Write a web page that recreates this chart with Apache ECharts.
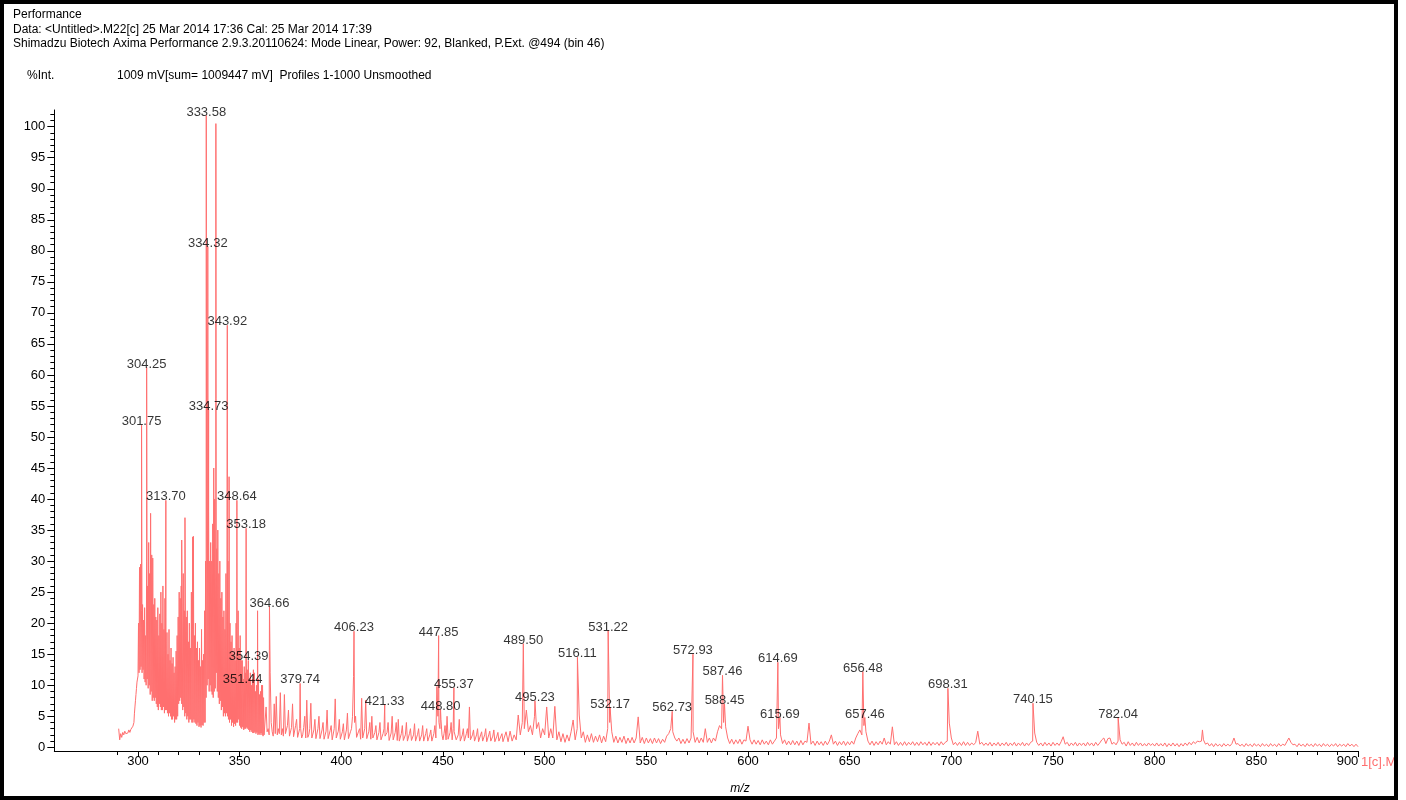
<!DOCTYPE html>
<html><head><meta charset="utf-8">
<script src="https://cdn.jsdelivr.net/npm/echarts@6/dist/echarts.min.js"></script>
<style>html,body{margin:0;padding:0;background:#fff}#c{width:1406px;height:800px}</style>
</head><body><div id="c"></div>
<script>
// ---------- DATA ----------
// Profile segment A: m/z 290.5 .. 297.5, step 0.5
const profAStart = 290.5, profAStep = 0.5;
const profA = [3.0,1.2,2.2,1.6,2.4,2.0,2.6,2.2,2.5,2.3,2.8,2.4,2.9,3.0,3.4];
// Profile segment B: m/z 298.0 .. 362.0, step 0.25 (dense cluster)
const profBStart = 298, profBStep = 0.25;
const profB = [
 4.0,5.5,6.5,7.5, 8.5,9.5,10.5,11.0, 11.5,20.0,12.0,29.0, 12.5,29.5,13.0,22.0, 12.0,23.0,12.5,20.5,
 11.0,22.5,10.5,18.0, 10.0,30.0,11.0,26.0, 9.5,33.0,10.0,28.0, 8.5,37.5,9.0,31.0, 7.5,30.5,8.0,23.0,
 7.5,24.0,8.0,21.0, 7.0,20.5,6.5,22.5, 6.0,18.0,7.0,21.5, 6.5,25.0,6.0,20.0, 6.0,26.0,6.5,19.0,
 5.5,24.0,6.0,17.0, 6.0,18.5,5.5,15.0, 5.0,19.0,5.5,14.0, 5.0,16.0,4.5,13.5, 4.5,14.5,5.0,12.0,
 4.0,13.0,4.5,15.5, 4.5,18.0,5.0,21.0, 7.0,25.0,7.5,24.0, 8.0,26.0,7.0,33.5, 6.0,28.0,6.5,22.0,
 5.0,37.0,5.5,21.0, 4.5,22.0,5.0,17.0, 4.0,20.0,4.5,16.0, 4.5,25.0,4.0,19.0, 4.0,34.0,4.5,18.0,
 4.0,20.0,3.8,16.0, 3.5,17.0,4.0,14.0, 3.3,16.0,3.5,13.0, 3.2,19.0,3.6,14.0, 3.5,15.0,4.0,22.0,
 4.0,30.0,8.0,35.0, 10.0,40.0,11.0,38.0, 9.0,30.0,10.0,33.0, 9.0,30.0,8.5,36.0, 8.0,45.0,9.0,40.0,
 9.5,35.0,12.0,32.0, 9.0,35.0,8.0,28.0, 7.0,30.0,7.5,24.0, 6.0,25.0,6.5,21.0, 5.0,22.0,5.5,19.0,
 5.0,28.0,5.5,24.0, 5.0,30.0,4.5,22.0, 4.0,20.0,4.5,17.0, 3.5,18.0,4.0,15.0, 3.3,16.0,3.8,14.0,
 3.5,20.0,4.0,19.0, 4.0,22.0,4.5,16.0, 3.5,18.0,3.2,14.0, 3.0,14.0,3.3,11.0, 2.8,13.0,3.0,12.0,
 3.0,16.0,3.2,12.5, 3.0,14.0,2.8,11.0, 2.5,12.0,2.8,10.0, 2.5,11.0,2.3,12.5, 2.3,12.0,2.5,9.0,
 2.2,10.0,2.4,11.5, 2.0,11.0,2.2,8.5, 2.0,9.0,2.3,10.0, 2.0,10.0,1.8,8.0,
 2.0
];
// Profile segment C: m/z 363 .. 480, step 0.5 (noisy baseline)
const profCStart = 363, profCStep = 0.5;
const profC = [
 6.5,2.5,3.0,2.0,12.0,4.0,2.5,1.8,7.0,2.2,
 8.2,2.0,3.0,2.2,8.8,2.0,3.0,1.8,8.5,2.2,
 2.0,3.5,6.0,1.8,1.8,3.2,7.0,1.7,2.0,3.5,
 4.5,1.6,1.6,3.0,3.0,1.5,2.0,3.2,5.0,1.5,
 7.6,1.6,2.0,3.0,7.1,1.5,1.6,2.8,4.5,1.4,
 1.5,3.0,5.0,1.4,1.4,2.8,4.0,1.3,1.5,2.6,
 6.0,1.4,1.4,2.7,3.5,1.2,1.2,3.0,7.8,1.5,
 1.5,2.6,4.5,1.3,1.3,2.5,3.8,1.2,1.2,2.8,
 5.5,1.4,1.4,2.5,3.0,5.0,11.4,4.0,5.0,1.6,
 1.5,2.6,3.0,1.3,7.9,1.5,1.5,3.0,7.6,1.4,
 1.4,2.5,4.0,1.3,5.0,1.5,1.3,2.4,3.5,1.2,
 1.2,2.4,4.0,1.2,1.1,2.2,3.0,1.8,1.5,2.4,
 4.0,1.1,1.1,2.3,5.0,1.2,1.2,2.4,4.0,1.1,
 4.5,1.0,1.0,2.2,3.5,1.1,1.1,2.0,4.0,1.0,
 1.0,2.2,3.0,1.1,1.2,2.0,3.8,1.0,1.0,2.1,
 3.0,1.0,1.1,2.0,3.5,1.0,1.0,2.2,3.0,1.0,
 1.2,2.0,2.8,1.0,1.0,2.2,3.5,1.5,9.8,5.0,
 4.0,3.0,4.5,2.0,1.2,2.2,3.5,1.2,5.0,1.3,
 1.2,2.4,4.0,1.2,3.0,2.5,2.5,1.2,1.0,2.0,
 4.5,1.0,1.0,2.0,3.0,1.0,1.2,2.2,3.0,1.5,
 6.5,1.2,1.0,2.0,2.8,1.0,1.0,2.0,3.0,0.9,
 0.9,2.0,2.5,1.0,1.0,2.0,3.0,0.9,0.9,2.0,
 2.6,1.0,1.0,1.8,2.8,0.9,0.9,1.8,2.4,1.0,
 1.0,1.8,2.2,0.9,0.8
];
// Profile segment D: m/z 481 .. 900, step 1 (baseline)
const profDStart = 481, profDStep = 1;
const profD = [
 2.5,0.9,
 2.6,1.0,2.0,1.2,5.2,2.0,4.0,3.0,6.0,2.5,
 3.5,2.0,5.0,3.0,4.0,1.5,3.0,2.0,6.5,1.5,
 3.0,1.5,6.6,1.2,2.5,0.9,2.2,0.8,2.0,1.0,
 2.5,4.4,1.2,3.0,5.2,1.5,2.5,0.8,2.0,0.9,
 2.2,0.8,1.8,0.9,2.0,0.7,1.8,0.9,3.0,4.0,
 2.5,0.8,1.8,0.7,1.6,0.8,1.8,0.6,1.5,0.7,
 1.6,0.7,1.5,4.9,0.7,1.6,0.6,1.5,0.7,1.4,
 0.6,1.5,0.7,1.4,0.6,1.3,0.8,1.8,2.2,3.0,
 2.5,1.5,1.0,1.5,0.6,1.3,0.6,1.4,0.7,1.5,
 2.5,0.8,1.6,0.7,1.5,0.8,3.0,0.8,1.5,0.7,
 1.5,1.0,2.5,3.5,3.0,4.0,3.3,1.5,0.6,1.3,
 0.5,1.2,0.6,1.3,0.5,1.2,1.0,3.4,1.2,0.5,
 1.2,0.5,1.1,0.4,1.2,0.5,1.0,0.4,1.2,0.5,
 1.0,1.5,3.0,2.0,0.6,1.2,0.4,1.0,0.4,1.1,
 0.4,1.0,0.3,1.1,0.4,1.0,0.8,3.9,0.5,1.0,
 0.3,1.0,0.4,0.9,0.3,1.0,0.4,1.0,2.0,0.5,
 1.0,0.3,0.9,0.4,1.0,0.3,0.9,0.4,1.0,0.5,
 1.5,2.2,2.8,2.0,3.5,2.5,1.0,0.4,1.0,0.3,
 0.9,0.4,1.0,0.5,1.5,0.4,0.9,0.5,3.3,0.4,
 0.9,0.3,0.8,0.3,0.9,0.3,0.8,0.4,0.9,0.3,
 0.8,0.3,0.9,0.4,0.8,0.3,0.9,0.3,0.8,0.4,
 0.8,0.3,0.9,0.4,0.8,1.0,3.9,1.5,0.4,0.8,
 0.3,0.8,0.3,0.9,0.3,0.8,0.3,0.7,0.4,0.8,
 2.6,0.5,0.8,0.3,0.7,0.3,0.8,0.2,0.7,0.3,
 0.8,0.2,0.7,0.3,0.8,0.2,0.7,0.3,0.8,0.2,
 0.7,0.3,0.8,0.2,0.7,0.3,0.8,1.0,2.3,0.8,
 0.3,0.7,0.2,0.8,0.3,0.7,0.2,0.8,0.3,0.7,
 0.3,0.9,1.7,0.5,0.8,0.2,0.7,0.3,0.8,0.2,
 0.7,0.3,0.7,0.2,0.8,0.3,0.7,0.2,0.8,0.3,
 0.7,1.2,1.5,0.6,1.4,1.5,0.5,0.8,0.4,1.0,
 1.2,0.5,0.8,0.2,0.9,0.3,0.7,0.2,0.8,0.3,
 0.7,0.2,0.6,0.2,0.7,0.3,0.6,0.2,0.7,0.2,
 0.6,0.2,0.7,0.1,0.6,0.2,0.7,0.2,0.6,0.1,
 0.6,0.2,0.7,0.3,0.8,0.4,0.9,0.6,1.0,0.9,
 1.0,1.2,0.5,0.7,0.2,0.6,0.1,0.6,0.2,0.5,
 0.1,0.6,0.2,0.5,0.2,0.6,1.5,0.5,0.6,0.2,
 0.5,0.1,0.6,0.2,0.5,0.1,0.6,0.2,0.5,0.1,
 0.6,0.2,0.5,0.1,0.6,0.2,0.5,0.1,0.6,0.2,
 0.5,0.3,0.9,1.5,0.8,0.4,0.5,0.1,0.6,0.2,
 0.5,0.1,0.6,0.2,0.5,0.1,0.6,0.2,0.5,0.1,
 0.6,0.2,0.5,0.1,0.5,0.2,0.6,0.1,0.5,0.2,
 0.5,0.1,0.6,0.2,0.5,0.1,0.5,0.1
];
// Labelled peaks (m/z, %Int)
const labeledMz  = [301.75,304.25,313.70,333.58,334.32,334.73,343.92,348.64,351.44,353.18,354.39,364.66,379.74,
                    406.23,421.33,447.85,448.80,455.37,489.50,495.23,516.11,531.22,532.17,562.73,572.93,587.46,
                    588.45,614.69,615.69,656.48,657.46,698.31,740.15,782.04];
const labeledInt = [51.9,61.2,39.8,101.8,80.7,54.4,68.0,39.8,10.4,35.3,14.0,22.7,10.3,
                    18.7,6.9,18.0,6.1,9.6,16.7,7.5,14.5,18.8,6.4,5.8,15.0,11.6,
                    7.0,13.7,4.8,12.2,4.8,9.5,7.1,4.8];
// Unlabelled peaks
const otherMz  = [306.20,321.50,323.10,326.90,338.30,344.80,358.80,823.50];
const otherInt = [37.7,33.4,37.0,33.9,100.5,43.6,22.0,2.8];
// Tick labels
const xTickLabels = [300,350,400,450,500,550,600,650,700,750,800,850,900];
const yTickLabels = [0,5,10,15,20,25,30,35,40,45,50,55,60,65,70,75,80,85,90,95,100];
// Header texts
const headerLines = [
  'Performance',
  'Data: <Untitled>.M22[c] 25 Mar 2014 17:36 Cal: 25 Mar 2014 17:39',
  'Shimadzu Biotech Axima Performance 2.9.3.20110624: Mode Linear, Power: 92, Blanked, P.Ext. @494 (bin 46)'
];
const yUnitText = '%Int.';
const infoText = '1009 mV[sum= 1009447 mV]  Profiles 1-1000 Unsmoothed';
const xNameText = 'm/z';
const cornerText = '1[c].M';

// ---------- BUILD ----------
const spectrum = [];
const addSeg = (start, step, arr) => arr.forEach((v,i)=>spectrum.push([start+i*step, v]));
addSeg(profAStart, profAStep, profA);
addSeg(profBStart, profBStep, profB);
addSeg(profCStart, profCStep, profC);
addSeg(profDStart, profDStep, profD);
labeledMz.forEach((m,i)=>spectrum.push([m, labeledInt[i]]));
otherMz.forEach((m,i)=>spectrum.push([m, otherInt[i]]));
spectrum.sort((a,b)=>a[0]-b[0]);
const labelPts = labeledMz.map((m,i)=>[m, labeledInt[i]]);

const FONT = '"Liberation Sans", Arial, sans-serif';
const RED = '#ff6f6f';
// layout helpers (pixel mapping of the reference)
const PXY = 6.206, Y0 = 747.3, PXX = 1220/600, XR = 1358;
const leftFor = m => XR - (900 - m) * PXX;
const topFor = v => Y0 - v * PXY;
const bottomFor = v => 800 - (Y0 - v * PXY);
const XMIN = 258.85, YMIN = -0.6, YMAX = 102.7;

const hiddenX = gi => ({gridIndex: gi, type:'value', show:false, min:0, max:1});
const hiddenY = gi => ({gridIndex: gi, type:'value', show:false, min:0, max:1});
const noSplit = {show:false};
const txt = (x, y, text, extra) => ({type:'text', x, y, silent:true,
  style: Object.assign({text, fontSize:12, fontFamily:FONT, fill:'#000', verticalAlign:'middle', textVerticalAlign:'middle'}, extra||{})});

const chart = echarts.init(document.getElementById('c'), null, {renderer:'canvas'});
chart.setOption({
  animation: false,
  backgroundColor: '#fff',
  grid: [
    {left: leftFor(XMIN), right: 1406-XR, top: topFor(YMAX), bottom: bottomFor(YMIN)},
    {left: leftFor(290), right: 1406-XR, top: topFor(YMAX), bottom: bottomFor(YMIN)},
    {left: leftFor(300), right: 1406-XR, top: topFor(YMAX), bottom: bottomFor(YMIN)},
    {left: leftFor(XMIN), right: 1406-XR, top: topFor(100), bottom: bottomFor(0)},
    {left: leftFor(XMIN), right: 1406-XR, top: topFor(102), bottom: bottomFor(0)}
  ],
  xAxis: [
    {gridIndex:0, type:'value', min:XMIN, max:900, splitLine:noSplit,
     axisLine:{show:true, onZero:false, lineStyle:{color:'#000', width:1}},
     axisTick:{show:false}, axisLabel:{show:false}},
    {gridIndex:1, type:'value', min:290, max:900, interval:10, splitLine:noSplit,
     axisLine:{show:false, onZero:false}, axisTick:{show:true, length:4, lineStyle:{color:'#000'}}, axisLabel:{show:false}},
    {gridIndex:2, type:'value', min:300, max:900, interval:50, splitLine:noSplit,
     axisLine:{show:false, onZero:false}, axisTick:{show:true, length:6, lineStyle:{color:'#000'}},
     axisLabel:{show:true, margin:4, fontSize:13, fontFamily:FONT, color:'#000',
       formatter: v => xTickLabels.includes(v) ? (v === 900 ? '{e|900}' : String(v)) : '',
       rich:{e:{fontSize:13, fontFamily:FONT, color:'#000', padding:[0,21,0,0]}}}},
    hiddenX(3), hiddenX(4)
  ],
  yAxis: [
    {gridIndex:0, type:'value', min:YMIN, max:YMAX, splitLine:noSplit,
     axisLine:{show:true, onZero:false, lineStyle:{color:'#000', width:1}},
     axisTick:{show:false}, axisLabel:{show:false}},
    hiddenY(1), hiddenY(2),
    {gridIndex:3, type:'value', min:0, max:100, interval:5, splitLine:noSplit,
     axisLine:{show:false, onZero:false}, axisTick:{show:true, length:7, lineStyle:{color:'#000'}},
     axisLabel:{show:true, margin:9, fontSize:13, fontFamily:FONT, color:'#000',
       formatter: v => yTickLabels.includes(v) ? String(v) : ''}},
    {gridIndex:4, type:'value', min:0, max:102, interval:1, splitLine:noSplit,
     axisLine:{show:false, onZero:false}, axisTick:{show:true, length:4, lineStyle:{color:'#000'}}, axisLabel:{show:false}}
  ],
  series: [
    {type:'line', xAxisIndex:0, yAxisIndex:0, data: spectrum, symbol:'none', showSymbol:false,
     lineStyle:{color:RED, width:1}, silent:true, z:2},
    {type:'scatter', xAxisIndex:0, yAxisIndex:0, data: labelPts, symbolSize:0, silent:true, z:3,
     itemStyle:{color:'transparent'},
     label:{show:true, position:'top', distance:-3, fontSize:13, fontFamily:FONT, color:'#000',
       formatter: p => p.value[0].toFixed(2)}}
  ],
  graphic: [
    txt(13, 15, headerLines[0]),
    txt(13, 29.5, headerLines[1]),
    txt(13, 44, headerLines[2]),
    txt(27, 76, yUnitText),
    txt(117, 76, infoText),
    txt(740, 789, xNameText, {fontStyle:'italic', align:'center', textAlign:'center'}),
    txt(1361, 762, cornerText, {fontSize:13, fill:RED}),
    {type:'rect', z:100, silent:true, shape:{x:2, y:2, width:1394, height:796}, style:{fill:'none', stroke:'#000', lineWidth:4}}
  ]
});
</script></body></html>
